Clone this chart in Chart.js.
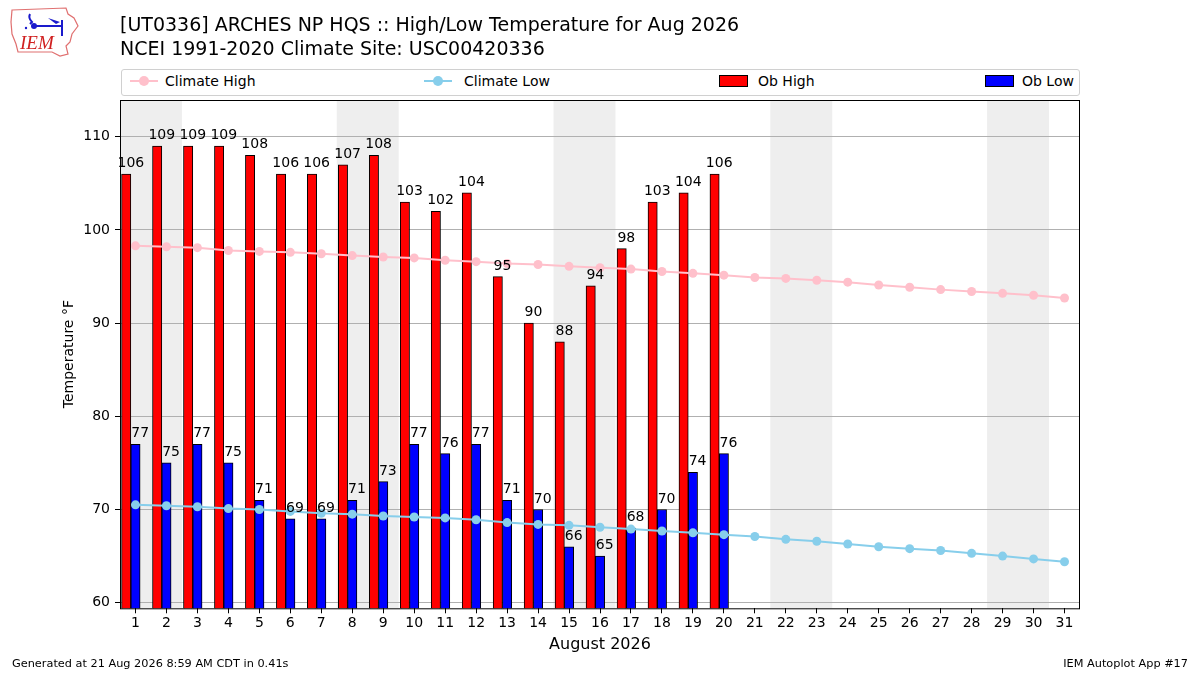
<!DOCTYPE html>
<html>
<head>
<meta charset="utf-8">
<script src="https://cdn.jsdelivr.net/npm/chart.js@4.4.1/dist/chart.umd.min.js"></script>
<style>
  body { margin: 0; background: #fff; font-family: "DejaVu Sans", sans-serif; }
  #page { position: relative; width: 1200px; height: 675px; overflow: hidden; }
  #chartBox { position: absolute; left: 0; top: 0; width: 1200px; height: 675px; }
  .title { position: absolute; left: 120px; font-size: 19px; color: #000; white-space: nowrap; }
  .foot { position: absolute; top: 657px; font-size: 11.3px; color: #000; white-space: nowrap; }
  #legend { position: absolute; left: 121px; top: 69px; width: 957px; height: 25px;
            border: 1px solid #d0d0d0; border-radius: 3px; background: #fff; }
  .lg { position: absolute; top: 2px; font-size: 14px; line-height: 18px; white-space: nowrap; }
  .lgline { position: absolute; top: 10px; width: 28px; height: 2px; }
  .lgdot { position: absolute; top: 6px; width: 10px; height: 10px; border-radius: 50%; }
  .lgpatch { position: absolute; top: 5px; width: 27px; height: 10px; border: 1px solid #000; }
</style>
</head>
<body>
<div id="page">
  <div id="chartBox"><canvas id="tempChart"></canvas></div>

  <svg style="position:absolute;left:8px;top:4px" width="74" height="56" viewBox="0 0 74 56">
    <path d="M4 6 L58 4 L60 10 L66 14 L70 22 L64 30 L62 38 L58 42 L60 50 L52 52 L44 48 L10 48 L8 40 L4 30 L3 18 Z"
          fill="none" stroke="#e07070" stroke-width="1.2"/>
    <path d="M22 10 Q20 14 24 18 L22 20" fill="none" stroke="#1a1acc" stroke-width="2"/>
    <circle cx="26" cy="22" r="3" fill="#1a1acc"/>
    <line x1="26" y1="22" x2="54" y2="22" stroke="#1a1acc" stroke-width="2"/>
    <path d="M40 14 L52 18 L48 20 Z" fill="#1a1acc"/>
    <line x1="54" y1="16" x2="54" y2="32" stroke="#1a1acc" stroke-width="2"/>
    <circle cx="18" cy="24" r="1.2" fill="#1a1acc"/>
    <text x="12" y="45" font-family="Liberation Serif, serif" font-style="italic" font-size="19" fill="#d02020">IEM</text>
  </svg>

  <div class="title" style="top:13px">[UT0336] ARCHES NP HQS :: High/Low Temperature for Aug 2026</div>
  <div class="title" style="top:37px">NCEI 1991-2020 Climate Site: USC00420336</div>

  <div id="legend">
    <div class="lgline" style="left:8px;background:#ffc0cb"></div>
    <div class="lgdot" style="left:17px;background:#ffc0cb"></div>
    <div class="lg" style="left:43px">Climate High</div>
    <div class="lgline" style="left:302px;background:#87ceeb"></div>
    <div class="lgdot" style="left:311px;background:#87ceeb"></div>
    <div class="lg" style="left:342px">Climate Low</div>
    <div class="lgpatch" style="left:597px;background:#ff0000"></div>
    <div class="lg" style="left:636px">Ob High</div>
    <div class="lgpatch" style="left:863px;background:#0000ff"></div>
    <div class="lg" style="left:900px">Ob Low</div>
  </div>

  <div class="foot" style="left:12px">Generated at 21 Aug 2026 8:59 AM CDT in 0.41s</div>
  <div class="foot" style="right:12px">IEM Autoplot App #17</div>
</div>

<script>
// August 2026, daily values
const days = [1, 2, 3, 4, 5, 6, 7, 8, 9, 10, 11, 12, 13, 14, 15, 16,
              17, 18, 19, 20, 21, 22, 23, 24, 25, 26, 27, 28, 29, 30, 31];
const obHigh = [106, 109, 109, 109, 108, 106, 106, 107, 108, 103, 102, 104, 95, 90, 88, 94,
                98, 103, 104, 106];
const obLow = [77, 75, 77, 75, 71, 69, 69, 71, 73, 77, 76, 77, 71, 70, 66, 65,
               68, 70, 74, 76];
const climateHigh = [98.3, 98.2, 98.1, 97.8, 97.7, 97.6, 97.45, 97.25, 97.1, 97.0, 96.75, 96.6,
                     96.4, 96.3, 96.1, 95.95, 95.8, 95.55, 95.35, 95.15, 94.9, 94.8, 94.6, 94.4,
                     94.1, 93.85, 93.6, 93.4, 93.2, 93.0, 92.7];
const climateLow = [70.5, 70.4, 70.3, 70.1, 70.0, 69.8, 69.6, 69.5, 69.3, 69.2, 69.1, 68.9,
                    68.6, 68.4, 68.3, 68.1, 67.9, 67.7, 67.5, 67.3, 67.1, 66.8, 66.6, 66.3,
                    66.0, 65.8, 65.6, 65.3, 65.0, 64.7, 64.4];
const weekendStarts = [1, 8, 15, 22, 29];   // Saturdays, shaded Sat+Sun
const yTicks = [60, 70, 80, 90, 100, 110];

// bar placement relative to the day (in day units)
const BAR_W = 0.3;
const HIGH_OFFSET = -0.3;
const LOW_OFFSET = 0;

Chart.defaults.font.family = '"DejaVu Sans", sans-serif';
Chart.defaults.font.size = 14;
Chart.defaults.color = '#000';

// grey weekend bands behind everything
const weekendBands = {
    id: 'weekendBands',
    beforeDraw(chart) {
        const { ctx, chartArea, scales: { x } } = chart;
        ctx.save();
        ctx.beginPath();
        ctx.rect(chartArea.left, chartArea.top, chartArea.width, chartArea.height);
        ctx.clip();
        ctx.fillStyle = '#eeeeee';
        weekendStarts.forEach(d => {
            const x0 = x.getPixelForValue(d - 0.5);
            const x1 = x.getPixelForValue(d + 1.5);
            ctx.fillRect(x0, chartArea.top, x1 - x0, chartArea.height);
        });
        ctx.restore();
    }
};

// value labels above the bars, plus the axes frame
const barLabels = {
    id: 'barLabels',
    afterDatasetsDraw(chart) {
        const { ctx, chartArea, scales: { x, y } } = chart;
        ctx.save();
        ctx.strokeStyle = '#000';
        ctx.lineWidth = 1;
        ctx.strokeRect(chartArea.left + 0.5, chartArea.top + 0.5, chartArea.width - 1, chartArea.height);

        ctx.font = '14px "DejaVu Sans", sans-serif';
        ctx.fillStyle = '#000';
        ctx.textAlign = 'center';
        ctx.textBaseline = 'alphabetic';
        obHigh.forEach((v, i) => {
            const px = x.getPixelForValue(days[i] + HIGH_OFFSET + BAR_W / 2);
            ctx.fillText(String(v), px, y.getPixelForValue(v) - 7);
        });
        obLow.forEach((v, i) => {
            const px = x.getPixelForValue(days[i] + LOW_OFFSET + BAR_W / 2);
            ctx.fillText(String(v), px, y.getPixelForValue(v) - 7);
        });
        ctx.restore();
    }
};

const ctx = document.getElementById('tempChart').getContext('2d');
const chart = new Chart(ctx, {
    type: 'bar',
    data: {
        datasets: [
            {
                type: 'line',
                label: 'Climate High',
                data: climateHigh.map((v, i) => ({ x: days[i], y: v })),
                borderColor: '#ffc0cb',
                backgroundColor: '#ffc0cb',
                borderWidth: 2,
                pointRadius: 4.5,
                pointBorderWidth: 0,
                order: 0
            },
            {
                type: 'line',
                label: 'Climate Low',
                data: climateLow.map((v, i) => ({ x: days[i], y: v })),
                borderColor: '#87ceeb',
                backgroundColor: '#87ceeb',
                borderWidth: 2,
                pointRadius: 4.5,
                pointBorderWidth: 0,
                order: 0
            },
            {
                label: 'Ob High',
                data: obHigh.map((v, i) => ({ x: days[i] + HIGH_OFFSET, y: v })),
                backgroundColor: '#ff0000',
                borderColor: '#000',
                borderWidth: 1,
                grouped: false,
                barThickness: 9.3,
                order: 1
            },
            {
                label: 'Ob Low',
                data: obLow.map((v, i) => ({ x: days[i] + LOW_OFFSET, y: v })),
                backgroundColor: '#0000ff',
                borderColor: '#000',
                borderWidth: 1,
                grouped: false,
                barThickness: 9.3,
                order: 1
            }
        ]
    },
    options: {
        responsive: true,
        maintainAspectRatio: false,
        animation: false,
        layout: { padding: { left: 0, top: 100, right: 120, bottom: 0 } },
        plugins: {
            legend: { display: false },
            tooltip: { enabled: false }
        },
        scales: {
            x: {
                type: 'linear',
                offset: false,
                min: 0.5,
                max: 31.5,
                afterBuildTicks: s => { s.ticks = days.map(d => ({ value: d })); },
                afterFit: s => { s.height = 66.7; },
                grid: { drawOnChartArea: false, tickColor: '#000', tickLength: 5, offset: false },
                border: { display: false },
                ticks: { padding: 2, maxRotation: 0, autoSkip: false, font: { size: 14 } },
                title: {
                    display: true,
                    text: 'August 2026',
                    font: { size: 16 },
                    padding: { top: 0, bottom: 21 }
                }
            },
            y: {
                min: 59.4,
                max: 113.95,
                afterBuildTicks: s => { s.ticks = yTicks.map(v => ({ value: v })); },
                afterFit: s => { s.width = 120; },
                grid: { color: '#b0b0b0', lineWidth: 1, tickColor: '#000', tickLength: 5 },
                border: { display: false },
                ticks: { padding: 5, font: { size: 14 } },
                title: {
                    display: true,
                    text: 'Temperature °F',
                    font: { size: 14 },
                    padding: { top: 61, bottom: 0 }
                }
            }
        }
    },
    plugins: [weekendBands, barLabels]
});
</script>
</body>
</html>
